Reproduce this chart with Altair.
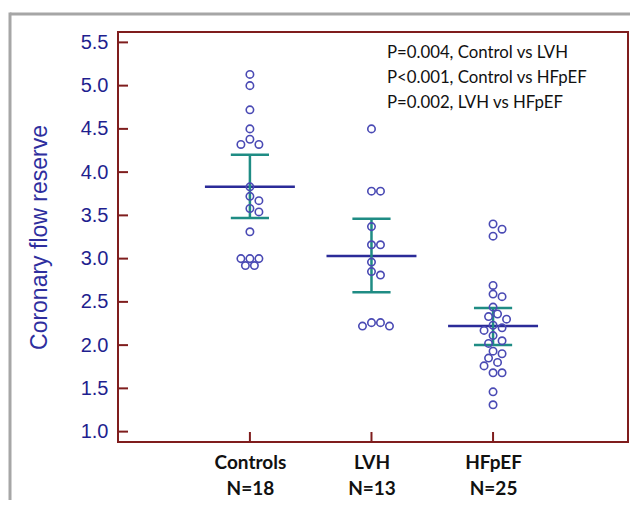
import altair as alt
import pandas as pd

# ---------------- data ----------------
groups = ["Controls", "LVH", "HFpEF"]
group_n = [18, 13, 25]
controls_cfr = [5.13, 5.00, 4.72, 4.50, 4.38, 4.32, 4.32, 3.83, 3.72, 3.67,
                3.58, 3.54, 3.31, 3.00, 3.00, 3.00, 2.92, 2.92]
lvh_cfr = [4.50, 3.78, 3.78, 3.37, 3.16, 3.16, 2.96, 2.85, 2.81,
           2.26, 2.26, 2.22, 2.22]
hfpef_cfr = [3.40, 3.34, 3.26, 2.69, 2.59, 2.56, 2.44, 2.36, 2.33, 2.30,
             2.23, 2.20, 2.17, 2.11, 2.05, 2.02, 1.93, 1.90, 1.85, 1.80,
             1.76, 1.68, 1.68, 1.46, 1.31]
group_mean = [3.83, 3.03, 2.22]
group_upper = [4.20, 3.46, 2.43]
group_lower = [3.47, 2.61, 2.00]
y_tick_values = [1.0, 1.5, 2.0, 2.5, 3.0, 3.5, 4.0, 4.5, 5.0, 5.5]
p_texts = ["P=0.004, Control vs LVH",
           "P<0.001, Control vs HFpEF",
           "P=0.002, LVH vs HFpEF"]

# ---------------- layout ----------------
W, H = 510, 410
XMIN, XMAX = -0.085, 4.11
YMIN, YMAX = 0.88, 5.62
PX_X = W / (XMAX - XMIN)
PX_Y = H / (YMAX - YMIN)

x_scale = alt.Scale(domain=[XMIN, XMAX], nice=False, zero=False)
y_scale = alt.Scale(domain=[YMIN, YMAX], nice=False, zero=False)

POINT_COLOR = "#4a4ab4"
MEAN_COLOR = "#2b2b98"
SEM_COLOR = "#1f8c84"
FRAME_COLOR = "#7f1d1d"


def swarm(vals, d=8.2, step=4.5):
    """simple beeswarm: pixel offsets so circles do not overlap"""
    placed = []
    res = [0.0] * len(vals)
    cands = [0.0] + [s * k * step for k in range(1, 12) for s in (1, -1)]
    order = sorted(range(len(vals)), key=lambda i: -vals[i])
    for i in order:
        y = vals[i] * PX_Y
        chosen = cands[-1]
        for c in cands:
            if all((c - px) ** 2 + (y - py) ** 2 >= d * d - 1e-6 for px, py in placed):
                chosen = c
                break
        placed.append((chosen, y))
        res[i] = chosen
    return res


rows = []
for gi, vals in enumerate([controls_cfr, lvh_cfr, hfpef_cfr]):
    offs = swarm(vals)
    for v, o in zip(vals, offs):
        rows.append({"group": groups[gi], "cfr": v, "xpos": gi + 1 + o / PX_X})
points_df = pd.DataFrame(rows)

stats_df = pd.DataFrame({
    "group": groups,
    "pos": [1, 2, 3],
    "mean": group_mean,
    "upper": group_upper,
    "lower": group_lower,
})

label_expr = " : ".join(
    f"datum.value == {i + 1} ? ['{g}', 'N={n}']" for i, (g, n) in enumerate(zip(groups, group_n))
) + " : ''"

# ---------------- layers ----------------
base_x_axis = alt.Axis(
    values=[1, 2, 3], labelExpr=label_expr, ticks=False, domain=False, grid=False,
    labelFont="Lato", labelFontSize=19, labelFontWeight="bold", labelColor="#111111",
    labelLineHeight=26, labelPadding=11, title=None,
)
base_y_axis = alt.Axis(
    values=y_tick_values, format=".1f", ticks=False, domain=False, grid=False,
    labelFont="Liberation Sans", labelFontSize=20, labelColor="#1f1f8f",
    labelPadding=10, title="Coronary flow reserve", titleFont="Liberation Sans",
    titleFontSize=23, titleFontWeight="normal", titleColor="#2e2e9e", titlePadding=29,
)

mean_lines = alt.Chart(stats_df).transform_calculate(
    xa="datum.pos - 0.37", xb="datum.pos + 0.37"
).mark_rule(color=MEAN_COLOR, strokeWidth=2.5).encode(
    x=alt.X("xa:Q", scale=x_scale, axis=base_x_axis),
    x2="xb:Q",
    y=alt.Y("mean:Q", scale=y_scale, axis=base_y_axis),
)

sem_vert = alt.Chart(stats_df).mark_rule(color=SEM_COLOR, strokeWidth=2.5).encode(
    x=alt.X("pos:Q", scale=x_scale),
    y=alt.Y("lower:Q", scale=y_scale),
    y2="upper:Q",
)

caps_df = pd.concat([
    stats_df.assign(cap=stats_df["upper"]),
    stats_df.assign(cap=stats_df["lower"]),
])
sem_caps = alt.Chart(caps_df).transform_calculate(
    xa="datum.pos - 0.157", xb="datum.pos + 0.157"
).mark_rule(color=SEM_COLOR, strokeWidth=2.5).encode(
    x=alt.X("xa:Q", scale=x_scale),
    x2="xb:Q",
    y=alt.Y("cap:Q", scale=y_scale),
)

points = alt.Chart(points_df).mark_point(
    shape="circle", filled=False, color=POINT_COLOR, size=55, strokeWidth=1.6, opacity=1
).encode(
    x=alt.X("xpos:Q", scale=x_scale),
    y=alt.Y("cfr:Q", scale=y_scale),
)

y_ticks = alt.Chart(pd.DataFrame({"v": y_tick_values})).mark_rule(
    color=FRAME_COLOR, strokeWidth=2
).encode(
    y=alt.Y("v:Q", scale=y_scale), x=alt.value(0), x2=alt.value(10)
)

x_ticks = alt.Chart(pd.DataFrame({"pos": [1, 2, 3]})).mark_rule(
    color=FRAME_COLOR, strokeWidth=2
).encode(
    x=alt.X("pos:Q", scale=x_scale), y=alt.value(H - 10), y2=alt.value(H)
)

p_text = alt.Chart(pd.DataFrame({"a": [0]})).mark_text(
    align="left", baseline="top", font="Lato", fontSize=16.8, color="#111111",
    lineHeight=25,
).encode(
    x=alt.X(datum=2.127, scale=x_scale),
    y=alt.Y(datum=5.465, scale=y_scale),
    text=alt.value(p_texts),
)

gray_top = alt.Chart(pd.DataFrame({"a": [0]})).mark_rule(color="#a6a6a6", strokeWidth=3).encode(
    x=alt.value(-108), x2=alt.value(515), y=alt.value(-18)
)
gray_left = alt.Chart(pd.DataFrame({"a": [0]})).mark_rule(color="#a6a6a6", strokeWidth=3).encode(
    x=alt.value(-108), y=alt.value(-19.5), y2=alt.value(470)
)

chart = alt.layer(
    mean_lines, gray_top, gray_left, y_ticks, x_ticks, sem_vert, sem_caps, points, p_text
).properties(
    width=W, height=H,
    autosize=alt.AutoSizeParams(type="none"),
    padding={"left": 110, "top": 24, "right": 2, "bottom": 58},
).configure(
    background="white"
).configure_view(
    stroke=FRAME_COLOR, strokeWidth=2
)

chart.save("out.html", embed_options={"renderer": "svg", "actions": False})
